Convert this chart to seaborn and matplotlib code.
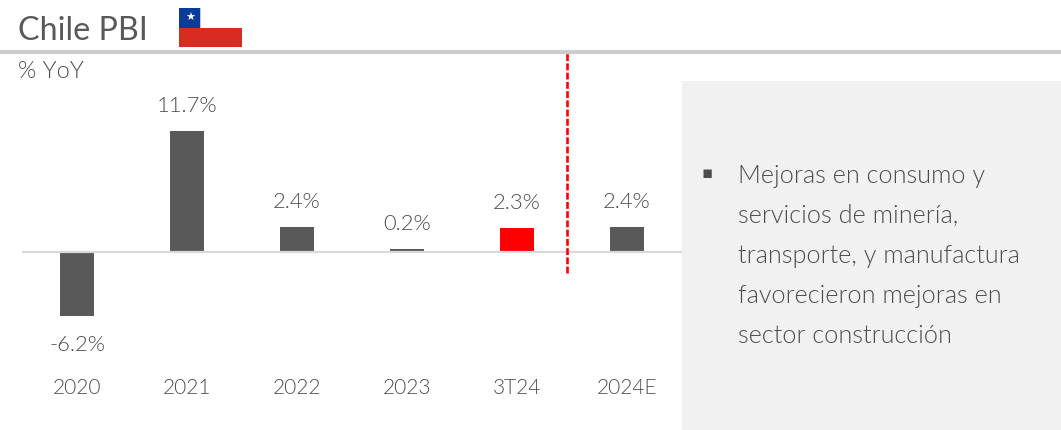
import pandas as pd
import matplotlib
matplotlib.use('Agg')
import matplotlib.pyplot as plt
import seaborn as sns
from matplotlib.patches import Rectangle

years = ['2020', '2021', '2022', '2023', '3T24', '2024E']
values = [-6.2, 11.7, 2.4, 0.2, 2.3, 2.4]
bar_colors = ['#595959', '#595959', '#595959', '#595959', '#ff0000', '#595959']
bullet_lines = ['Mejoras en consumo y', 'servicios de minería,', 'transporte, y manufactura',
                'favorecieron mejoras en', 'sector construcción']

W, H = 1061, 430
sns.set_style('white')
plt.rcParams['font.family'] = ['Lato', 'DejaVu Sans']
plt.rcParams['font.weight'] = 300
GREY = '#4d4d4d'

fig = plt.figure(figsize=(W / 100, H / 100), dpi=100)

def fx(px):
    return px / W

def fy(py):
    return 1 - py / H

# side panel, header rule and flag are placed in pixels
fig.add_artist(Rectangle((fx(682), 0), fx(379), fy(81), color='#f1f1f1', lw=0))
fig.add_artist(Rectangle((0, fy(53.5)), 1, 3.5 / H, color='#cccccc', lw=0))
fig.add_artist(Rectangle((fx(179), fy(47)), 63 / W, 19 / H, color='#d92c20', lw=0))
fig.add_artist(Rectangle((fx(179), fy(28)), 21 / W, 20 / H, color='#0a3a9c', lw=0))
fig.add_artist(Rectangle((fx(200), fy(28)), 1 / W, 20 / H, color='#b8c6e8', lw=0))

ax = fig.add_axes([fx(22), fy(372), 660 / W, 320 / H])
ax.patch.set_alpha(0)

df = pd.DataFrame({'year': years, 'value': values})
sns.barplot(data=df, x='year', y='value', hue='year', palette=bar_colors, legend=False,
            width=0.318, dodge=False, saturation=1, linewidth=0, ax=ax)

ax.set_xlim(-0.5, 5.5)
px_per_unit = 121 / 11.7
ax.set_ylim((251.5 - 372) / px_per_unit, (251.5 - 52) / px_per_unit)
sns.despine(ax=ax, left=True, bottom=True)
ax.axhline(0, color='#d9d9d9', lw=1.6, zorder=1)
ax.set_yticks([])
ax.set_xlabel('')
ax.set_ylabel('')
ax.tick_params(axis='x', length=0, pad=4.5, labelsize=15, labelcolor=GREY)

for i, v in enumerate(values):
    if v < 0:
        ax.annotate(f'{v}%', (i, v), xytext=(0, -21), textcoords='offset points',
                    ha='center', va='center', fontsize=15.8, color=GREY)
    else:
        ax.annotate(f'{v}%', (i, v), xytext=(0, 18), textcoords='offset points',
                    ha='center', va='center', fontsize=15.8, color=GREY)

ax.plot([4.455, 4.455], [-2.1, ax.get_ylim()[1]], color='#ff0000', lw=1.9,
        ls=(0, (2.6, 0.9)), zorder=5)

fig.text(fx(18), fy(31), 'Chile PBI', fontsize=23.2, weight=400, color='#595959', ha='left', va='center')
fig.text(fx(18), fy(71), '% YoY', fontsize=17, color=GREY, ha='left', va='center')
fig.text(fx(190), fy(18), '★', fontsize=8, weight=400, color='white', ha='center', va='center',
         family=['DejaVu Sans'])

fig.text(fx(707), fy(173), '▪', fontsize=12, weight=400, color=GREY, ha='center', va='center',
         family=['DejaVu Sans'])
for i, line in enumerate(bullet_lines):
    fig.text(fx(738), fy(176 + i * 40), line, fontsize=18.2, color=GREY, ha='left', va='center')

fig.savefig('out.png', dpi=100)
plt.close(fig)
